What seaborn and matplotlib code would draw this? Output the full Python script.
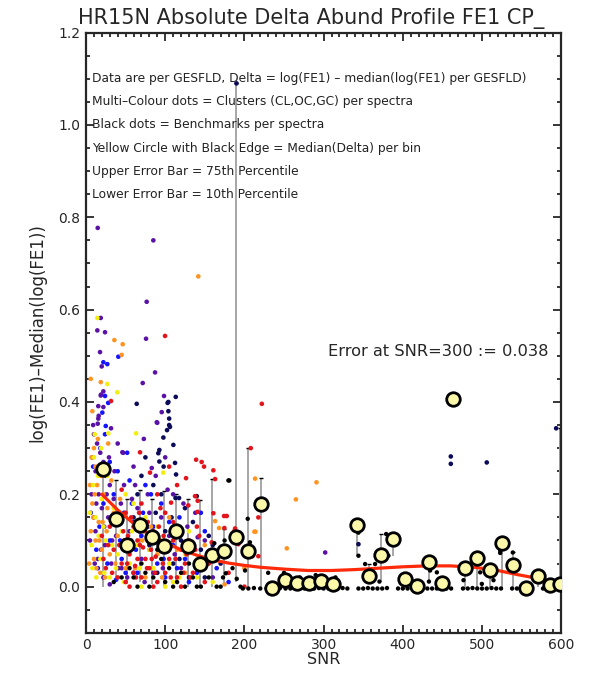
import numpy as np
import pandas as pd
import matplotlib
matplotlib.use("Agg")
import matplotlib.pyplot as plt
from matplotlib.ticker import MultipleLocator
import seaborn as sns

# --- cluster dots (SNR, delta) per colour ---
purple_x = [14.8, 85, 76.6, 18.6, 14.3, 24, 75.8, 17.7, 19.8, 87.2, 71.6, 21.9, 18.6, 98.5, 15.5, 21.9,
            95.6, 16, 19, 89.3, 15.5, 14.8, 31.6, 90, 45.9, 83, 141, 302,
            10, 14, 18, 22, 12, 25, 30, 16, 35, 20, 28, 42, 12, 38, 24, 50, 15, 32, 45, 60, 22, 70,
            55, 65, 78, 88, 95, 105, 112, 120, 128, 135, 100, 60, 48, 40, 73, 110, 145, 160, 85, 30,
            8, 10, 58,
            5, 7, 9, 11, 13, 17, 19, 23, 26, 29, 33, 36, 41, 44, 47, 52, 57, 62, 67, 74, 80, 92, 97,
            103, 115, 123, 138, 150]
purple_y = [0.777, 0.75, 0.617, 0.582, 0.555, 0.551, 0.537, 0.508, 0.477, 0.464, 0.441, 0.423, 0.414,
            0.413, 0.391, 0.389, 0.378, 0.37, 0.416, 0.356, 0.364, 0.353, 0.343, 0.355, 0.291, 0.257,
            0.107, 0.074,
            0.33, 0.31, 0.29, 0.27, 0.25, 0.24, 0.22, 0.2, 0.19, 0.17, 0.15, 0.14, 0.12, 0.11, 0.09,
            0.08, 0.06, 0.05, 0.04, 0.03, 0.02, 0.06, 0.12, 0.17, 0.2, 0.24, 0.15, 0.11, 0.07, 0.04,
            0.13, 0.09, 0.28, 0.26, 0.22, 0.31, 0.32, 0.2, 0.05, 0.02, 0.03, 0.005, 0.28, 0.15, 0.19,
            0.1, 0.2, 0.35, 0.05, 0.18, 0.26, 0.08, 0.13, 0.2, 0.28, 0.1, 0.25, 0.04, 0.18, 0.29,
            0.02, 0.1, 0.22, 0.12, 0.01, 0.16, 0.09, 0.04, 0.21, 0.13, 0.18, 0.16, 0.1]

blue_x = [20.6, 24, 21.9, 26.9, 40.8, 28, 24.9, 24, 18, 30, 40, 55, 35, 22, 48, 60, 70, 30, 80, 45,
          90, 15, 65, 100, 110, 125, 140, 52, 75, 95, 118, 85, 38, 130, 150, 165, 180,
          6, 9, 13, 17, 27, 33, 43, 50, 58, 63, 72, 82, 88, 98, 105, 115, 135, 145]
blue_y = [0.377, 0.413, 0.486, 0.482, 0.498, 0.398, 0.348, 0.33, 0.3, 0.27, 0.25, 0.23, 0.2, 0.18,
          0.16, 0.14, 0.11, 0.1, 0.08, 0.06, 0.05, 0.04, 0.03, 0.02, 0.09, 0.06, 0.03, 0.29, 0.22,
          0.18, 0.15, 0.13, 0.015, 0.01, 0.12, 0.04, 0.01,
          0.16, 0.26, 0.08, 0.13, 0.05, 0.15, 0.1, 0.03, 0.18, 0.08, 0.16, 0.2, 0.1, 0.06, 0.14,
          0.04, 0.09, 0.16]

navy_x = [64, 104, 113.3, 104, 103, 105, 105, 106, 102.3, 97.7, 110.3, 92.6, 91.3, 92.6, 112.4, 113.7,
          117.5, 113, 139.8, 75, 85, 95, 125, 135, 100, 120, 80, 145, 110, 90, 130, 60, 70, 150, 170,
          155, 460.6, 460.6, 506, 593.6, 344, 190,
          78, 88, 98, 108, 118, 128, 138, 65, 55, 160]
navy_y = [0.396, 0.40, 0.411, 0.38, 0.398, 0.364, 0.35, 0.346, 0.339, 0.323, 0.307, 0.296, 0.289,
          0.271, 0.268, 0.243, 0.192, 0.192, 0.196, 0.28, 0.22, 0.2, 0.17, 0.14, 0.12, 0.1, 0.09,
          0.08, 0.05, 0.03, 0.02, 0.15, 0.24, 0.02, 0.05, 0.11, 0.282, 0.266, 0.269, 0.343, 0.092, 1.09,
          0.13, 0.16, 0.26, 0.15, 0.06, 0.09, 0.05, 0.2, 0.09, 0.09]

red_x = [99.8, 31.6, 222, 68.2, 139, 149, 160.8, 126.3, 80.8, 208, 107.4, 129.2, 137.7, 160.8, 174.3,
         177.7, 187, 217.6, 146, 141, 141, 163, 174.7, 188.2, 158.7, 192.4, 217.6, 210, 200,
         40, 45, 50, 55, 60, 65, 70, 75, 80, 85, 90, 95, 100, 105, 110, 115, 120, 125, 130, 135, 145,
         150, 60, 50, 70, 90, 100, 115, 35, 30, 25, 20, 55, 85, 120, 105, 45, 65, 78, 110, 140, 155,
         170, 180, 62, 88, 98, 72, 48,
         22, 28, 33, 38, 42, 47, 52, 57, 63, 68, 73, 77, 82, 87, 92, 97, 102, 107, 113, 118, 123,
         127, 132, 138, 143, 148, 53, 67, 83, 94]
red_y = [0.543, 0.402, 0.396, 0.291, 0.275, 0.26, 0.252, 0.235, 0.247, 0.30, 0.182, 0.176, 0.196,
         0.159, 0.153, 0.153, 0.12, 0.15, 0.27, 0.186, 0.162, 0.233, 0.127, 0.126, 0.096, 0.092,
         0.066, 0.066, 0.0,
         0.02, 0.05, 0.01, 0.07, 0.03, 0.1, 0.02, 0.06, 0.04, 0.12, 0.01, 0.08, 0.03, 0.06, 0.14,
         0.02, 0.08, 0.05, 0.1, 0.03, 0.06, 0.01, 0.13, 0.16, 0.18, 0.2, 0.16, 0.22, 0.08, 0.13,
         0.04, 0.11, 0.0, 0.0, 0.0, 0.26, 0.21, 0.06, 0.14, 0.1, 0.13, 0.05, 0.08, 0.03, 0.045,
         0.065, 0.11, 0.085, 0.1,
         0.06, 0.09, 0.03, 0.14, 0.09, 0.12, 0.05, 0.15, 0.02, 0.09, 0.12, 0.04, 0.08, 0.03, 0.13,
         0.05, 0.09, 0.02, 0.06, 0.11, 0.03, 0.07, 0.02, 0.08, 0.11, 0.04, 0.11, 0.16, 0.06, 0.17]

orange_x = [141.8, 35.8, 46.3, 45, 18.6, 213.5, 214, 253.5, 265, 291, 163, 168, 212.6, 6, 8, 10, 12,
            14, 8, 16, 12, 10, 18, 22, 26, 30, 35, 40, 50, 58, 66, 75, 90, 105, 125, 150, 175, 200,
            28, 5, 20, 6, 230,
            4, 7, 9, 11, 13, 15, 17, 19, 21, 24, 27, 32, 37, 43, 48, 62, 71, 82, 96, 115]
orange_y = [0.672, 0.534, 0.525, 0.502, 0.443, 0.234, 0.119, 0.083, 0.189, 0.226, 0.142, 0.127,
            0.119, 0.45, 0.38, 0.3, 0.26, 0.22, 0.18, 0.14, 0.1, 0.06, 0.03, 0.2, 0.12, 0.07, 0.16,
            0.11, 0.04, 0.09, 0.14, 0.02, 0.07, 0.15, 0.03, 0.09, 0.005, 0.04, 0.31, 0.22, 0.08,
            0.12, 0.0,
            0.05, 0.28, 0.15, 0.2, 0.04, 0.32, 0.1, 0.24, 0.14, 0.02, 0.17, 0.23, 0.05, 0.19, 0.08,
            0.04, 0.1, 0.13, 0.02, 0.08]

yellow_x = [14.3, 26.9, 39.5, 63.2, 28.2, 97.6, 10, 15, 20, 12, 25, 18, 30, 35, 45, 55, 65, 75, 85,
            95, 110, 125, 140, 160, 40, 50, 8, 22, 70, 100, 130, 60,
            5, 7, 9, 11, 13, 16, 19, 23, 27, 33, 38, 43, 48, 58, 68, 80, 90, 105, 118]
yellow_y = [0.582, 0.439, 0.421, 0.332, 0.332, 0.247, 0.28, 0.24, 0.19, 0.15, 0.1, 0.06, 0.02, 0.17,
            0.12, 0.05, 0.09, 0.15, 0.04, 0.1, 0.01, 0.07, 0.02, 0.01, 0.07, 0.2, 0.04, 0.13, 0.0,
            0.0, 0.12, 0.18,
            0.16, 0.09, 0.22, 0.33, 0.02, 0.11, 0.3, 0.03, 0.24, 0.09, 0.04, 0.16, 0.01, 0.12, 0.04,
            0.08, 0.13, 0.05, 0.02]

# --- benchmark dots (black) ---
black_x = [179.8, 181, 204.2, 162, 207, 176.5, 200.8, 190.3, 173, 344, 344, 352.4, 365, 370.5, 381.8,
           379, 434.5, 433, 443, 476.6, 497.7, 514.5, 523, 523, 538.9, 499.8, 434.5,
           60, 80, 100, 120, 140, 150, 95, 130, 110, 70, 165, 185, 160, 230, 250, 270, 290, 300,
           315, 260,
           35, 45, 55, 65, 75, 85, 90, 105, 115, 125, 135, 145, 155, 170, 175, 195,
           198, 205, 212, 220, 228, 239, 245, 252, 258, 264, 270, 276, 282, 288, 294, 300, 306, 312,
           318, 324, 330, 344, 350, 356, 362, 368, 374, 380, 394, 400, 406, 412, 418, 431, 437, 443,
           449, 455, 461, 476, 482, 488, 494, 500, 506, 512, 518, 524, 538, 544, 550, 556, 577, 583,
           589, 595]
black_y = [0.23, 0.23, 0.147, 0.094, 0.096, 0.029, 0.035, 0.017, 0.02, 0.117, 0.067, 0.049, 0.049,
           0.011, 0.067, 0.114, 0.035, 0.011, 0.031, 0.014, 0.031, 0.014, 0.073, 0.078, 0.074,
           0.006, 0.054,
           0.02, 0.0, 0.01, 0.03, 0.0, 0.04, 0.06, 0.05, 0.0, 0.05, 0.0, 0.04, 0.06, 0.03, 0.03,
           0.02, 0.025, 0.01, 0.02, 0.0,
           0.01, 0.02, 0.04, 0.0, 0.03, 0.02, 0.08, 0.04, 0.01, 0.0, 0.02, 0.0, 0.02, 0.0, 0.1, 0.0,
           -0.004, -0.004, -0.003, -0.004, -0.004, -0.004, -0.003, -0.004, -0.004, -0.004, -0.003,
           -0.004, -0.004, -0.004, -0.003, -0.004, -0.004, -0.004, -0.004, -0.003, -0.004, -0.004,
           -0.004, -0.003, -0.004, -0.004, -0.004, -0.003, -0.004, -0.004, -0.004, -0.003, -0.004,
           -0.004, -0.004, -0.004, -0.003, -0.004, -0.004, -0.004, -0.004, -0.003, -0.004, -0.004,
           -0.004, -0.003, -0.004, -0.004, -0.004, -0.004, -0.003, -0.004, -0.004, -0.004, -0.004,
           -0.004]

# --- medians per bin with 10th / 75th percentile ---
med_snr = [21.9, 37.5, 52.2, 68.2, 83.0, 98.1, 113.3, 129.2, 144.0, 159.5, 174.7, 189.8, 204.2, 220.7,
           235, 251, 266, 281.3, 296.2, 312.4, 342.7, 357.5, 372.2, 387.4, 402.9, 418.5, 433.2, 450.0,
           464, 478.7, 493.5, 510.3, 525.1, 539.7, 555.8, 571.3, 586.1, 599]
med_delta = [0.255, 0.147, 0.090, 0.134, 0.107, 0.089, 0.121, 0.087, 0.049, 0.069, 0.078, 0.107, 0.078,
             0.178, -0.003, 0.015, 0.009, 0.008, 0.012, 0.006, 0.134, 0.022, 0.069, 0.103, 0.017,
             0.002, 0.054, 0.009, 0.406, 0.041, 0.062, 0.035, 0.094, 0.046, -0.002, 0.022, 0.004, 0.005]
p10 = [0.0, 0.01, 0.005, 0.01, 0.005, 0.0, 0.01, 0.0, 0.0, 0.0, 0.005, 0.01, 0.0, 0.0, -0.004, 0.0,
       0.0, 0.0, 0.0, 0.0, 0.067, 0.011, 0.011, 0.067, 0.0, 0.0, 0.011, 0.0, 0.406, -0.004, 0.0, 0.0,
       -0.004, 0.0, -0.004, 0.0, 0.0, 0.0]
p75 = [0.27, 0.23, 0.19, 0.21, 0.19, 0.208, 0.2, 0.189, 0.187, 0.233, 0.124, 1.09, 0.30, 0.235, 0.0,
       0.02, 0.015, 0.015, 0.02, 0.01, 0.134, 0.049, 0.114, 0.114, 0.02, 0.005, 0.054, 0.01, 0.406,
       0.05, 0.062, 0.04, 0.094, 0.074, 0.0, 0.025, 0.01, 0.343]

# --- red trend curve ---
fit_snr = [20, 40, 60, 80, 100, 120, 140, 160, 180, 200, 220, 250, 280, 310, 340, 370, 400, 430, 460,
           490, 520, 545, 570, 600]
fit_delta = [0.200, 0.166, 0.137, 0.114, 0.095, 0.080, 0.068, 0.058, 0.051, 0.046, 0.042, 0.038,
             0.035, 0.035, 0.037, 0.040, 0.043, 0.045, 0.045, 0.042, 0.035, 0.026, 0.018, 0.008]

notes = ["Data are per GESFLD, Delta = log(FE1) \u2013 median(log(FE1) per GESFLD)",
         "Multi\u2013Colour dots = Clusters (CL,OC,GC) per spectra",
         "Black dots = Benchmarks per spectra",
         "Yellow Circle with Black Edge = Median(Delta) per bin",
         "Upper Error Bar = 75th Percentile",
         "Lower Error Bar = 10th Percentile"]
note_y = [1.1, 1.05, 1.0, 0.95, 0.9, 0.85]

palette = {"purple": "#5a12a6", "blue": "#1414ff", "navy": "#0b0b5a", "red": "#e3141c",
           "orange": "#ff9422", "yellow": "#f2ef10"}

frames = []
for name, xs, ys in [("purple", purple_x, purple_y), ("blue", blue_x, blue_y),
                     ("navy", navy_x, navy_y), ("orange", orange_x, orange_y),
                     ("yellow", yellow_x, yellow_y), ("red", red_x, red_y)]:
    frames.append(pd.DataFrame({"snr": xs, "delta": ys, "group": name}))
clusters = pd.concat(frames, ignore_index=True)
bench = pd.DataFrame({"snr": black_x, "delta": black_y})
med = pd.DataFrame({"snr": med_snr, "delta": med_delta, "lo": p10, "hi": p75})

sns.set_style("ticks")
plt.rcParams["font.family"] = ["DejaVu Sans"]

fig = plt.figure(figsize=(6.1, 6.79), dpi=100)
ax = fig.add_axes([0.141, 0.068, 0.779, 0.884])

# error bars
ax.vlines(med["snr"], med["lo"], med["hi"], color="#a6a6a6", lw=1.4, zorder=1)
ax.scatter(med["snr"], med["hi"], marker="_", s=10, color="black", lw=1, zorder=1)

sns.scatterplot(data=clusters, x="snr", y="delta", hue="group", palette=palette, s=11,
                edgecolor="none", legend=False, ax=ax, zorder=2)
sns.scatterplot(data=bench, x="snr", y="delta", color="black", s=10, edgecolor="none",
                ax=ax, zorder=3)
# trend curve drawn above the dots
ax.plot(fit_snr, fit_delta, color="#ff2a0a", lw=2.3, zorder=6, solid_capstyle="round")
sns.scatterplot(data=med, x="snr", y="delta", s=95, color="#fbf8aa", edgecolor="black",
                linewidth=2.0, ax=ax, zorder=7)

for t, yy in zip(notes, note_y):
    ax.text(8, yy, t, fontsize=8.8, va="center", ha="left", color="#222222")
ax.text(306, 0.509, "Error at SNR=300 := 0.038", fontsize=11.7, va="center", ha="left")

ax.set_xlim(0, 600)
ax.set_ylim(-0.1, 1.2)
ax.xaxis.set_major_locator(MultipleLocator(100))
ax.xaxis.set_minor_locator(MultipleLocator(10))
ax.yaxis.set_major_locator(MultipleLocator(0.2))
ax.yaxis.set_minor_locator(MultipleLocator(0.05))
ax.yaxis.set_major_formatter(plt.FormatStrFormatter("%.1f"))
ax.tick_params(which="both", direction="in", top=True, right=True, width=1.3, labelsize=10)
ax.tick_params(which="major", length=6, pad=4)
ax.tick_params(which="minor", length=3)
for sp in ax.spines.values():
    sp.set_linewidth(1.6)

ax.set_xlabel("SNR", fontsize=11.5, labelpad=0)
ax.set_ylabel("log(FE1)\u2013Median(log(FE1))", fontsize=12, labelpad=9)
fig.text(0.51, 0.973, "HR15N Absolute Delta Abund Profile FE1 CP_", fontsize=15,
         ha="center", va="center")

fig.savefig("out.png", dpi=100)
